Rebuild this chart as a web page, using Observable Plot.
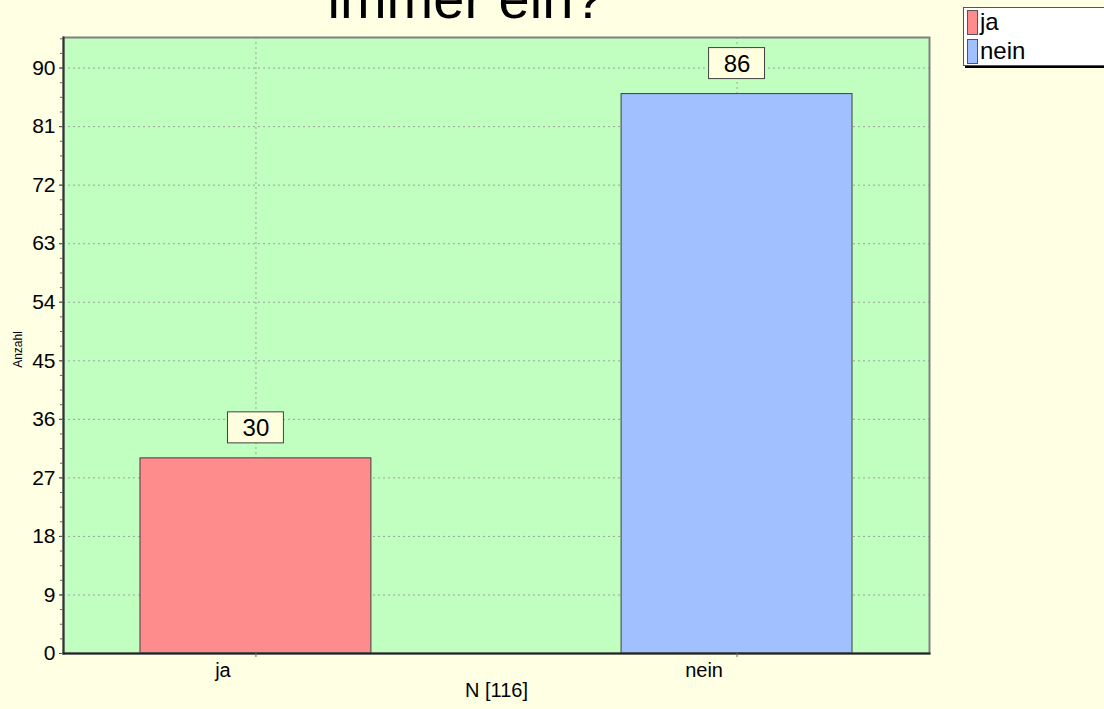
<!DOCTYPE html>
<html>
<head>
<meta charset="utf-8">
<script src="https://cdn.jsdelivr.net/npm/d3@7"></script>
<script src="https://cdn.jsdelivr.net/npm/@observablehq/plot@0.6"></script>
<style>
html, body { margin: 0; padding: 0; background: #FFFFE4; }
#wrap { position: relative; width: 1104px; height: 709px; overflow: hidden; font-family: "Liberation Sans", Arial, sans-serif; }
#chart { position: absolute; left: 0; top: 0; }
#title { position: absolute; left: 0; width: 932px; top: -29px; text-align: center; font-size: 56px; line-height: 56px; color: #000; white-space: nowrap; }
#legend { position: absolute; left: 963px; top: 7px; width: 150px; height: 59px; background: #fff; border: 1px solid #555; box-shadow: 2px 2px 0 #000; box-sizing: border-box; }
.li { position: absolute; left: 3px; height: 26px; display: flex; align-items: center; font-size: 24px; line-height: 26px; color: #000; }
.sw { width: 11px; height: 25px; border: 1px solid #555; margin-right: 2px; box-sizing: border-box; }
</style>
</head>
<body>
<div id="wrap">
  <div id="chart"></div>
  <div id="title"></div>
  <div id="legend"></div>
</div>
<script>
const titleText = "immer ein?";
const categories = ["ja", "nein"];
const counts = [30, 86];
const colors = ["#FF8C8C", "#A0C0FF"];
const yTicks = [0, 9, 18, 27, 36, 45, 54, 63, 72, 81, 90];
const yMax = 94.7;
const xTitle = "N [116]";
const yTitle = "Anzahl";

const data = categories.map((c, i) => ({category: c, count: counts[i], color: colors[i]}));
const yMinor = d3.range(0, yMax, 2.25);

const plot = Plot.plot({
  width: 1104,
  height: 709,
  marginLeft: 63,
  marginRight: 175,
  marginTop: 37,
  marginBottom: 56,
  style: {background: "transparent", fontFamily: "Liberation Sans, Arial, sans-serif", color: "#000"},
  x: {domain: categories, paddingInner: 0.52, paddingOuter: 0.16, round: false, axis: null},
  y: {domain: [0, yMax], axis: null},
  marks: [
    Plot.frame({fill: "#C0FFC0", stroke: "none"}),
    Plot.gridY(yTicks, {stroke: "#999", strokeOpacity: 0.9, strokeDasharray: "2,3"}),
    Plot.gridX(categories, {stroke: "#999", strokeOpacity: 0.9, strokeDasharray: "2,3"}),
    Plot.barY(data, {x: "category", y: "count", fill: "color", stroke: "#404040", strokeWidth: 1}),
    Plot.barY(data, {x: "category", y1: "count", y2: "count", insetTop: -46, insetBottom: 15, insetLeft: 87.5, insetRight: 87.5, fill: "#FFFFE0", stroke: "#404040", strokeWidth: 1}),
    Plot.text(data, {x: "category", y: "count", text: d => String(d.count), dy: -30, fontSize: 24, fill: "#000"}),
    Plot.frame({stroke: "#808080", strokeWidth: 2}),
    Plot.frame({anchor: "left", stroke: "#333", strokeWidth: 2}),
    Plot.frame({anchor: "bottom", stroke: "#222", strokeWidth: 2}),
    Plot.axisY(yTicks, {tickSize: 4, tickPadding: 4, fontSize: 21, label: null, stroke: "#333"}),
    Plot.axisY(yMinor, {tickSize: 3, tickFormat: () => "", label: null, stroke: "#666"}),
    Plot.axisX({tickSize: 4, text: null, label: null, stroke: "#666"}),
    Plot.axisX({tickSize: 0, tickPadding: 9, dx: -33, fontSize: 20, label: null}),
    Plot.text([xTitle], {frameAnchor: "bottom", dy: 43, fontSize: 20, textAnchor: "middle", fill: "#000"}),
    Plot.text([yTitle], {frameAnchor: "left", dx: -45, dy: 4, rotate: -90, fontSize: 12, textAnchor: "middle", fill: "#000"})
  ]
});
document.getElementById("chart").appendChild(plot);

document.getElementById("title").textContent = titleText;

const legend = document.getElementById("legend");
categories.forEach((c, i) => {
  const item = document.createElement("div");
  item.className = "li";
  item.style.top = (1 + i * 29) + "px";
  const sw = document.createElement("div");
  sw.className = "sw";
  sw.style.background = colors[i];
  const t = document.createElement("span");
  t.textContent = c;
  item.appendChild(sw);
  item.appendChild(t);
  legend.appendChild(item);
});
</script>
</body>
</html>
